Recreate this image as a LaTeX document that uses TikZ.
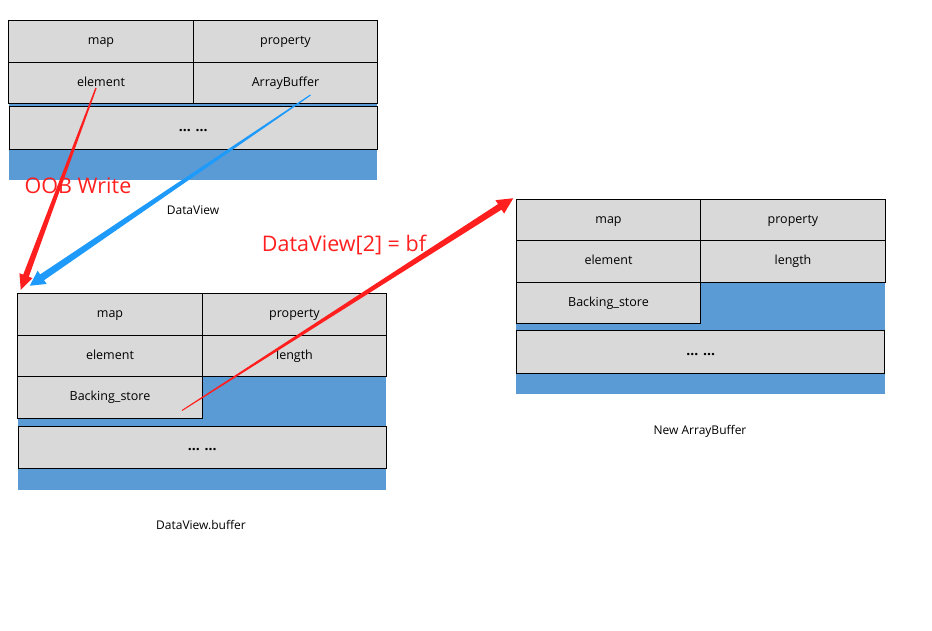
\documentclass[tikz,border=0pt]{standalone}
\usepackage{fontspec}
\setmainfont{Open Sans}
\usepackage{tikz}
\usetikzlibrary{positioning,calc,backgrounds}

\definecolor{cellgray}{HTML}{D9D9D9}
\definecolor{memblue}{HTML}{5B9BD5}
\definecolor{oobred}{HTML}{FF1F1F}
\definecolor{ptrblue}{HTML}{1E9BFA}

% tapered arrow: colour, from, to, half width at start, half width at end, head half width, head length
\newcommand{\taperarrow}[7]{%
  \coordinate (th) at ($(#3)!#7!(#2)$);
  \fill[#1] ($(#2)!#4!90:(#3)$) -- ($(th)!#5!-90:(#2)$) -- ($(th)!#6!-90:(#2)$)
    -- (#3) -- ($(th)!#6!90:(#2)$) -- ($(th)!#5!90:(#2)$) -- ($(#2)!#4!-90:(#3)$) -- cycle;}

\begin{document}
\begin{tikzpicture}[x=1pt,y=-1pt,
    cell/.style={draw=black, line width=0.9pt, fill=cellgray, minimum width=184.5pt,
      minimum height=41.5pt, inner sep=0pt, outer sep=0pt, text height=9pt, text depth=2.5pt,
      font=\fontsize{12.5}{15}\selectfont},
    dotsrow/.style={cell, minimum width=368pt, minimum height=42.5pt, anchor=north,
      font=\fontsize{14}{16}\selectfont\bfseries},
    caption/.style={font=\fontsize{12}{14}\selectfont},
    redlabel/.style={text=oobred, font=\fontsize{21.5}{25}\selectfont}]
    \useasboundingbox (0,0) rectangle (932,631);

    % DataView
    \node[cell] (map1) at (101,41.5) {map};
    \node[cell, right=0pt of map1] (prop1) {property};
    \node[cell, below=0pt of map1] (elem1) {element};
    \node[cell, right=0pt of elem1] (ab1) {ArrayBuffer};
    \node[dotsrow] (dots1) at ([yshift=-3pt]elem1.south east) {... ...};
    \node[caption] (lab1) at (193,210) {DataView};

    % DataView.buffer
    \node[cell] (map2) at (110,314.5) {map};
    \node[cell, right=0pt of map2] (prop2) {property};
    \node[cell, below=0pt of map2] (elem2) {element};
    \node[cell, right=0pt of elem2] (len2) {length};
    \node[cell, below=0pt of elem2] (bs2) {Backing\_store};
    \node[dotsrow] (dots2) at ([yshift=-8pt]bs2.south east) {... ...};
    \node[caption] (lab2) at (201,525) {DataView.buffer};

    % New ArrayBuffer
    \node[cell] (map3) at (608.5,220) {map};
    \node[cell, right=0pt of map3] (prop3) {property};
    \node[cell, below=0pt of map3] (elem3) {element};
    \node[cell, right=0pt of elem3] (len3) {length};
    \node[cell, below=0pt of elem3] (bs3) {Backing\_store};
    \node[dotsrow] (dots3) at ([yshift=-7pt]bs3.south east) {... ...};
    \node[caption] (lab3) at (700,431) {New ArrayBuffer};

    \begin{scope}[on background layer]
        \fill[memblue] (map1.north west) rectangle ([yshift=-31pt]dots1.south east);
        \fill[memblue] (map2.north west) rectangle ([yshift=-21pt]dots2.south east);
        \fill[memblue] (map3.north west) rectangle ([yshift=-21pt]dots3.south east);
    \end{scope}

    \node[redlabel] (oob) at (78,186) {OOB Write};
    \node[redlabel] (bf) at (344,245) {DataView[2] = bf};

    \coordinate (oobs) at ([xshift=-5pt,yshift=-5pt]elem1.center);
    \coordinate (oobe) at ([xshift=3pt,yshift=4pt]map2.north west);
    \coordinate (abs) at ([xshift=25pt,yshift=-12pt]ab1.center);
    \coordinate (abe) at ([xshift=12pt,yshift=8pt]map2.north west);
    \coordinate (bss) at ([xshift=72pt,yshift=-13pt]bs2.center);
    \coordinate (bse) at ([xshift=-3pt,yshift=1pt]map3.north west);

    \taperarrow{oobred}{oobs}{oobe}{0.7pt}{3pt}{7pt}{15pt}
    \taperarrow{ptrblue}{abs}{abe}{0.6pt}{3.5pt}{8pt}{15pt}
    \taperarrow{oobred}{bss}{bse}{0.5pt}{3.3pt}{8pt}{16pt}
\end{tikzpicture}
\end{document}
